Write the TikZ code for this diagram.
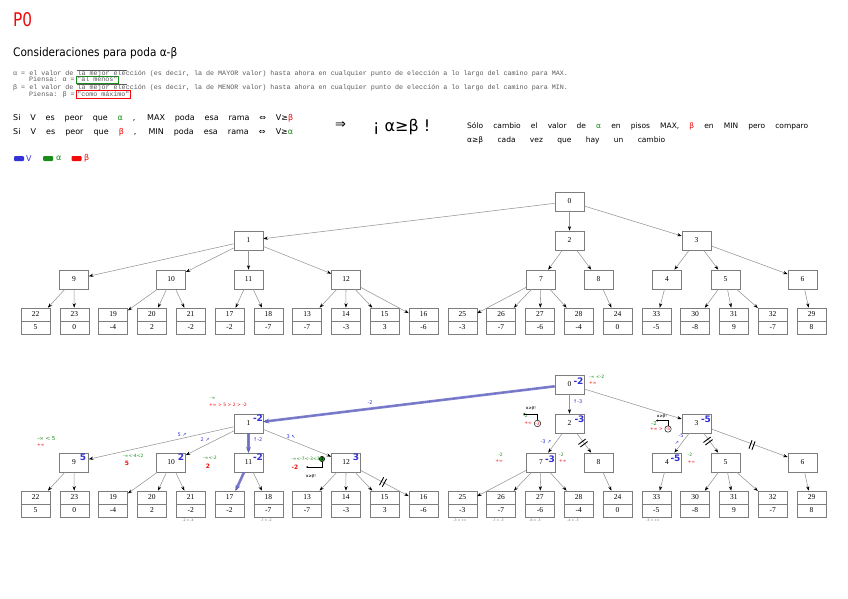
\documentclass[tikz,border=0pt]{standalone}
\usepackage{fontspec}
\setmainfont{Liberation Serif}
\newfontfamily\hand{DejaVu Sans}
\newfontfamily\monof{Liberation Mono}
\usetikzlibrary{arrows.meta}
\definecolor{bV}{RGB}{50,50,215}
\definecolor{gA}{RGB}{25,140,25}
\definecolor{rB}{RGB}{240,10,10}
\definecolor{boxgray}{RGB}{125,125,125}
\definecolor{edgegray}{RGB}{150,150,150}
\definecolor{hil}{RGB}{105,105,200}
\definecolor{monogray}{RGB}{90,90,90}

\newcommand\mktree[2]{%
  \foreach \n/\px/\py in {0/569.5/201.5,1/248.5/240.5,2/569.5/240.5,3/696.5/240.5,9/74/279.5,10/171/279.5,11/248.5/279.5,12/346/279.5,7/541/279.5,8/598.5/279.5,4/667/279.5,5/725.5/279.5,6/802.5/279.5}{
    \node[tn] (#1\n) at (\px,{\py+#2}) {\n};}
  \foreach \n/\val [count=\cnt from 0] in {22/5,23/0,19/-4,20/2,21/-2,17/-2,18/-7,13/-7,14/-3,15/3,16/-6,25/-3,26/-7,27/-6,28/-4,24/0,33/-5,30/-8,31/9,32/-7,29/8}{
    \node[lf] (#1\n) at ({35.5+38.8*\cnt},{321+#2}) {};
    \draw[boxgray,line width=0.6pt] (#1\n.west) -- (#1\n.east);
    \node[lt] (#1\n l) at ([yshift=6.5pt]#1\n.center) {\n};
    \node[lt] (#1\n v) at ([yshift=-6.5pt]#1\n.center) {\val};}
  \foreach \pa/\ch in {0/1,0/2,0/3,1/9,1/10,1/11,1/12,9/22,9/23,10/19,10/20,10/21,11/17,11/18,12/13,12/14,12/15,12/16,2/7,2/8,3/4,3/5,3/6,7/25,7/26,7/27,7/28,8/24,4/33,5/30,5/31,5/32,6/29}{
    \draw[ed] (#1\pa) -- (#1\ch);}
}
\newcommand\prunemark[3]{%
  \begin{scope}[shift={(#1,#2)},rotate=#3]
    \draw[black,line width=0.9pt] (-1.6,-4.5)--(-1.6,4.5) (1.6,-4.5)--(1.6,4.5);
  \end{scope}}

\begin{document}
\begin{tikzpicture}[x=1pt,y=-1pt,
  tn/.style={draw=boxgray,line width=0.6pt,minimum width=29pt,minimum height=19pt,inner sep=0pt,font=\fontsize{7.5}{8}\selectfont},
  lf/.style={draw=boxgray,line width=0.6pt,minimum width=29pt,minimum height=26pt,inner sep=0pt},
  lt/.style={font=\fontsize{7.5}{8}\selectfont,inner sep=0pt},
  ed/.style={draw=edgegray,line width=0.55pt,-{Stealth[color=black,length=4.5pt,width=3.2pt]}},
  hl/.style={draw=hil,opacity=0.85,line width=2.6pt,-{Stealth[color=hil,length=6pt,width=5pt]}},
  vb/.style={text=bV,font=\hand\bfseries\fontsize{9}{10}\selectfont,inner sep=0pt},
  ga/.style={text=gA,font=\hand\fontsize{4.5}{5}\selectfont,inner sep=0pt},
  rb/.style={text=rB,font=\hand\fontsize{4.5}{5}\selectfont,inner sep=0pt},
  gab/.style={text=gA,font=\hand\fontsize{5.5}{6}\selectfont,inner sep=0pt},
  rbb/.style={text=rB,font=\hand\bfseries\fontsize{6}{6}\selectfont,inner sep=0pt},
  el/.style={text=bV,font=\hand\fontsize{5}{5}\selectfont,inner sep=0pt},
  bk/.style={text=black,font=\hand\fontsize{4}{4}\selectfont,inner sep=0pt},
  tinyt/.style={text=black!60,font=\hand\fontsize{3.2}{3}\selectfont,inner sep=0pt},
  mono/.style={font=\monof\fontsize{6.7}{7}\selectfont,text=monogray,inner sep=0pt,anchor=base west},
  hw/.style={anchor=base west,inner sep=0pt},
  hook/.style={black,line width=0.45pt,-{Stealth[length=2pt,width=2pt]}},
  circ/.style={circle,draw=black,line width=0.45pt,inner sep=0.3pt},
  legbox/.style={rounded corners=1pt,minimum width=10pt,minimum height=5pt,inner sep=0pt}
]
\useasboundingbox (0,0) rectangle (848,599);
\fill[white] (0,0) rectangle (848,599);

% ---- header texts
\node[hw,text=rB] (p0) at (13,27) {\resizebox{19pt}{14pt}{\hand P0}};
\node[hw] (cons) at (13,57) {\resizebox{164pt}{9pt}{\hand Consideraciones para poda α-β}};

\node[mono] (m1) at (13,75.5) {α = el valor de la mejor elección (es decir, la de MAYOR valor) hasta ahora en cualquier punto de elección a lo largo del camino para MAX.};
\node[mono] (m2) at (29,82) {Piensa: α =};
\node[mono,draw=gA,line width=0.5pt,inner xsep=0.8pt,inner ysep=1.2pt] (m2b) at (76.2,82) {"al menos"};
\node[mono] (m3) at (13,89.5) {β = el valor de la mejor elección (es decir, la de MENOR valor) hasta ahora en cualquier punto de elección a lo largo del camino para MIN.};
\node[mono] (m4) at (29,96.5) {Piensa: β =};
\node[mono,draw=rB,line width=0.5pt,inner xsep=0.8pt,inner ysep=1.2pt] (m4b) at (76.2,96.5) {"como máximo"};
\draw[monogray,line width=0.4pt] (77,70) -- (127,70);
\draw[monogray,line width=0.4pt] (77,84.5) -- (127,84.5);

\node[hw,font=\hand\fontsize{8}{9}\selectfont] (si1) at (13,120.5) {\makebox[280pt][s]{Si V es peor que \textcolor{gA}{α} , MAX poda esa rama ⇔ V≥\textcolor{rB}{β}}};
\node[hw,font=\hand\fontsize{8}{9}\selectfont] (si2) at (13,134.5) {\makebox[280pt][s]{Si V es peor que \textcolor{rB}{β} , MIN poda esa rama ⇔ V≥\textcolor{gA}{α}}};
\node[inner sep=0pt,font=\hand\fontsize{13}{13}\selectfont] (impl) at (340.5,125) {⇒};
\node[hw,font=\hand\fontsize{16}{16}\selectfont] (abang) at (373,131.5) {\makebox[57pt][s]{¡ α≥β !}};
\node[hw,font=\hand\fontsize{7.5}{8}\selectfont] (so1) at (467,128.5) {\makebox[341pt][s]{Sólo cambio el valor de \textcolor{gA}{α} en pisos MAX, \textcolor{rB}{β} en MIN pero comparo}};
\node[hw,font=\hand\fontsize{7.5}{8}\selectfont] (so2) at (467,142.5) {\makebox[198pt][s]{α≥β cada vez que hay un cambio}};

% legend
\node[legbox,fill=bV] (lgV) at (19,158.5) {};
\node[anchor=west,inner sep=0pt,text=bV,font=\hand\fontsize{8}{8}\selectfont] (lgVt) at (26,158.5) {V};
\node[legbox,fill=gA] (lgA) at (48,158.5) {};
\node[anchor=west,inner sep=0pt,text=gA,font=\hand\fontsize{8}{8}\selectfont] (lgAt) at (56,158.5) {α};
\node[legbox,fill=rB] (lgB) at (76.5,158.5) {};
\node[anchor=west,inner sep=0pt,text=rB,font=\hand\fontsize{8}{8}\selectfont] (lgBt) at (84,158.5) {β};

% ---- trees
\mktree{t}{0}
\mktree{b}{183}

\draw[hl] (b0) -- (b1);
\draw[hl] (b1) -- (b11);
\draw[hl] (b11) -- (b17);

% ---- annotations, bottom tree
% node 0
\node[vb] (v0) at ([xshift=9pt,yshift=3pt]b0.center) {-2};
\node[ga,anchor=west] (g0) at (589,377) {-∞ <-2};
\node[rb,anchor=west] (r0) at (589,383) {+∞};
\node[el] (e01) at (370,403) {-2};
\node[el,anchor=west] (e02) at (573,402) {↑-3};
% node 2
\node[vb] (v2) at ([xshift=10pt,yshift=4pt]b2.center) {-3};
\node[bk] (k2) at (531,408.5) {α≥β!};
\node[ga,anchor=east] (g2) at (528,416) {-2};
\node[rb,anchor=east] (r2) at (532,423) {+∞};
\node[rb,circ] (c2) at (537.5,423.5) {-3};
\coordinate (h2) at (523,414);
\draw[hook] (c2.north) |- (h2);
\node[el] (e27) at (546,442) {-3 ↗};
\prunemark{583}{443}{-53}
% node 7
\node[vb] (v7) at ([xshift=9pt,yshift=3.5pt]b7.center) {-3};
\node[ga,anchor=east] (g7a) at (503,455) {-2};
\node[rb,anchor=east] (r7a) at (503,461) {+∞};
\node[ga,anchor=west] (g7b) at (559,455) {-2};
\node[rb,anchor=west] (r7b) at (559,461) {+∞};
\node[tinyt] (n25) at (460,520) {-3 < +∞};
\node[tinyt] (n26) at (498,520) {-7 < -3};
\node[tinyt] (n27) at (535,520) {-6 < -3};
\node[tinyt] (n28) at (573,520) {-4 < -3};
% node 3
\node[vb] (v3) at ([xshift=9.5pt,yshift=4.5pt]b3.center) {-5};
\node[bk] (k3) at (662,416.5) {α≥β!};
\node[gab,anchor=east] (g3) at (657,423) {-2};
\node[rb,anchor=east] (r3) at (663,429) {+∞ >};
\node[rb,circ] (c3) at (668,429) {-5};
\coordinate (h3) at (656,420.5);
\draw[hook] (c3.north) |- (h3);
\node[el] (e34a) at (681,436) {-5};
\node[el] (e34b) at (677,443) {↗};
\prunemark{708}{441}{-53}
\prunemark{752}{445}{-20}
% node 4
\node[vb] (v4) at ([xshift=8.5pt,yshift=4.5pt]b4.center) {-5};
\node[ga,anchor=west] (g4) at (687.5,455) {-2};
\node[rb,anchor=west] (r4) at (687.5,462) {+∞};
\node[tinyt] (n33) at (653,520) {-5 < +∞};
% node 1
\node[vb] (v1) at ([xshift=9.5pt,yshift=5pt]b1.center) {-2};
\node[ga,anchor=west] (g1) at (210,398) {-∞};
\node[rb,anchor=west] (r1) at (209,405) {+∞ > 5 > 2 > -2};
\node[el] (e19) at (182,435) {5 ↗};
\node[el] (e110) at (205,440) {2 ↗};
\node[el,anchor=west] (e111) at (253,440) {↑-2};
\node[el] (e112) at (291,437) {3 ↖};
% node 9
\node[vb] (v9) at ([xshift=9pt,yshift=5pt]b9.center) {5};
\node[gab,anchor=west] (g9) at (37,439) {-∞ < 5};
\node[rb,anchor=west] (r9) at (37,445) {+∞};
% node 10
\node[vb] (v10) at ([xshift=10pt,yshift=5pt]b10.center) {2};
\node[ga,anchor=west] (g10) at (123,456) {-∞<-4<2};
\node[rbb] (r10) at (127,463) {5};
% node 11
\node[vb] (v11) at ([xshift=9.5pt,yshift=5pt]b11.center) {-2};
\node[ga,anchor=west] (g11) at (203,458) {-∞<-2};
\node[rbb] (r11) at (208,466) {2};
\node[tinyt] (n21) at (188,520) {-2 > -4};
\node[tinyt] (n18) at (266,520) {-7 < -2};
% node 12
\node[vb] (v12) at ([xshift=10pt,yshift=5pt]b12.center) {3};
\node[ga,anchor=west] (g12) at (291,459) {-∞<-7<-3<3};
\node[circ,fill=gA,text=black,font=\hand\fontsize{4.5}{5}\selectfont] (c12) at (322,459) {3};
\coordinate (h12) at (306,467);
\draw[hook] (c12.south) |- (h12);
\node[rbb] (r12) at (295,467) {-2};
\node[bk] (k12) at (311,476.5) {α≥β!};
\prunemark{383}{482}{-28}
\end{tikzpicture}
\end{document}
